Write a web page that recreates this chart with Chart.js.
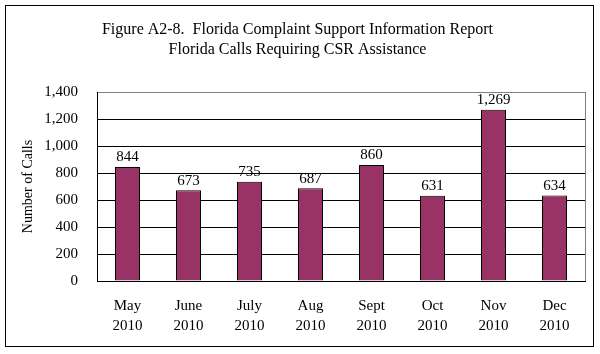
<!DOCTYPE html>
<html>
<head>
<meta charset="utf-8">
<script src="https://cdn.jsdelivr.net/npm/chart.js@4.4.1/dist/chart.umd.min.js"></script>
<style>
  html, body { margin: 0; padding: 0; background: #fff; }
  #wrap { width: 600px; height: 354px; }
</style>
</head>
<body>
<div id="wrap"><canvas id="callsChart" width="600" height="354"></canvas></div>
<script>
// données
const months = [["May", "2010"], ["June", "2010"], ["July", "2010"], ["Aug", "2010"],
                ["Sept", "2010"], ["Oct", "2010"], ["Nov", "2010"], ["Dec", "2010"]];
const calls = [844, 673, 735, 687, 860, 631, 1269, 634];
const yTicks = [0, 200, 400, 600, 800, 1000, 1200, 1400];
const titleLines = ["Figure A2-8.  Florida Complaint Support Information Report",
                    "Florida Calls Requiring CSR Assistance"];

const serif = "'Liberation Serif', 'Times New Roman', serif";

// cadre extérieur + bordure droite grise de la zone de tracé
const framePlugin = {
  id: "frame",
  afterDraw(chart) {
    const ctx = chart.ctx;
    const a = chart.chartArea;
    ctx.save();
    ctx.strokeStyle = "#000";
    ctx.lineWidth = 1;
    ctx.strokeRect(5.5, 5.5, 588, 341);
    ctx.strokeStyle = "#808080";
    ctx.beginPath();
    ctx.moveTo(Math.round(a.right) + 0.5, a.top);
    ctx.lineTo(Math.round(a.right) + 0.5, a.bottom);
    ctx.stroke();
    ctx.restore();
  }
};

// étiquettes de valeurs au-dessus des barres
const valueLabels = {
  id: "valueLabels",
  afterDatasetsDraw(chart) {
    const ctx = chart.ctx;
    const meta = chart.getDatasetMeta(0);
    ctx.save();
    ctx.font = "15px " + serif;
    ctx.fillStyle = "#000";
    ctx.textAlign = "center";
    ctx.textBaseline = "bottom";
    meta.data.forEach((bar, i) => {
      ctx.fillText(calls[i].toLocaleString("en-US"), bar.x, bar.y - 2);
    });
    ctx.restore();
  }
};

const ctx = document.getElementById("callsChart").getContext("2d");
new Chart(ctx, {
  type: "bar",
  data: {
    labels: months,
    datasets: [{
      data: calls,
      backgroundColor: "#993366",
      borderColor: "#000",
      borderWidth: 1,
      categoryPercentage: 1,
      barPercentage: 0.41
    }]
  },
  options: {
    responsive: false,
    animation: false,
    layout: { padding: { left: 10, right: 15, top: 0, bottom: 0 } },
    plugins: {
      legend: { display: false },
      tooltip: { enabled: false },
      title: {
        display: true,
        text: titleLines,
        color: "#000",
        font: { family: serif, size: 16, weight: "normal", lineHeight: 1.25 },
        padding: { top: 20, bottom: 32 }
      }
    },
    scales: {
      x: {
        grid: { display: false, drawTicks: false },
        border: { color: "#000", width: 1 },
        ticks: {
          color: "#000",
          padding: 15,
          maxRotation: 0,
          font: { family: serif, size: 15, lineHeight: 1.35 }
        },
        afterFit(scale) { scale.height = 73; }
      },
      y: {
        min: 0,
        max: 1400,
        afterBuildTicks(scale) { scale.ticks = yTicks.map(v => ({ value: v })); },
        grid: {
          drawTicks: false,
          color: (c) => (c.tick && c.tick.value === 1400 ? "#808080" : "#000")
        },
        border: { color: "#000", width: 1 },
        ticks: {
          color: "#000",
          padding: 19,
          font: { family: serif, size: 15 },
          callback: (v) => v.toLocaleString("en-US")
        },
        title: {
          display: true,
          text: "Number of Calls",
          color: "#000",
          font: { family: serif, size: 14 },
          padding: { top: 10, bottom: 0 }
        },
        afterFit(scale) { scale.width = 87; }
      }
    }
  },
  plugins: [framePlugin, valueLabels]
});
</script>
</body>
</html>
